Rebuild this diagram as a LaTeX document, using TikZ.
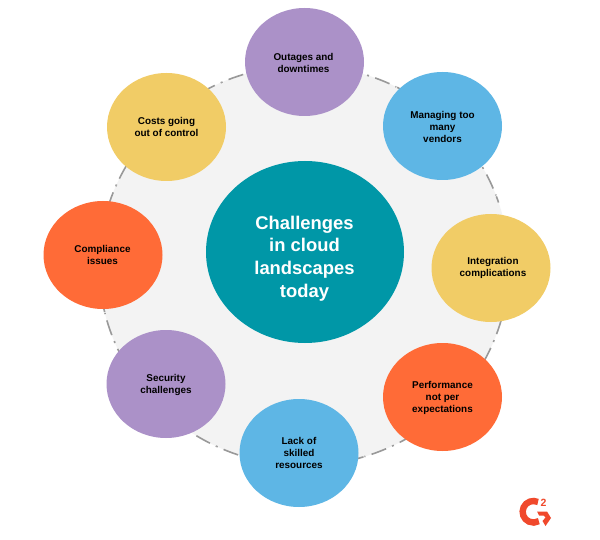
\documentclass[tikz,border=0pt]{standalone}
\usepackage{fontspec}
\setmainfont{Liberation Sans}
\definecolor{teal1}{HTML}{0097A7}
\definecolor{purp}{HTML}{AB91C8}
\definecolor{blue1}{HTML}{5EB6E5}
\definecolor{yel}{HTML}{F1CC66}
\definecolor{oran}{HTML}{FF6B37}
\definecolor{ring}{HTML}{F3F3F3}
\definecolor{gred}{HTML}{F0492C}
\definecolor{ringline}{HTML}{999999}
\usetikzlibrary{shapes.geometric}
\tikzset{
 x=1pt,y=-1pt,
 item/.style={ellipse,minimum width=119pt,minimum height=108pt,inner sep=0pt,align=center,text=black},
 itemtext/.style={inner sep=0pt,align=center,text=black,font=\fontsize{9.9}{12}\selectfont\bfseries},
 ringdash/.style={draw=ringline,line width=1.6pt,dash pattern=on 1pt off 6.5pt on 15.5pt off 6.5pt on 1pt},
}
\begin{document}
\begin{tikzpicture}
\useasboundingbox (0,0) rectangle (600,540);
\fill[white] (0,0) rectangle (600,540);
\fill[ring] (304,265.5) ellipse[x radius=205,y radius=200];
\foreach \a/\lo/\hi in {-71.8/-80/-58,-29.2/-35/-12,22.2/10/35,64.3/52/80,115.2/103/128,157.5/148/175,203.6/190/216,246.3/232/262}{
  \draw[ringdash] ({304+205*cos(\a)},{265.5+200*sin(\a)}) arc[x radius=205,y radius=200,start angle=\a,end angle=\hi];
  \draw[ringdash] ({304+205*cos(\a)},{265.5+200*sin(\a)}) arc[x radius=205,y radius=200,start angle=\a,end angle=\lo];
}
\node[ellipse,fill=teal1,minimum width=198pt,minimum height=182pt,inner sep=0pt] (c) at (305,252) {};
\node[inner sep=0pt,align=center,text=white,font=\fontsize{18.4}{22.7}\selectfont\bfseries] (ct) at (304.5,258.5) {Challenges\\in cloud\\landscapes\\today};
\node[item,fill=purp] (a) at (304.5,62) {};
\node[itemtext] (at) at (303.5,63) {Outages and\\downtimes};
\node[item,fill=blue1] (b) at (442.5,126) {};
\node[itemtext] (bt) at (442.5,127) {Managing too\\many\\vendors};
\node[item,fill=yel] (d) at (491,268) {};
\node[itemtext] (dt) at (493,268) {Integration\\complications};
\node[item,fill=oran] (e) at (442.5,397) {};
\node[itemtext] (et) at (442.5,397.5) {Performance\\not per\\expectations};
\node[item,fill=blue1] (f) at (299,453) {};
\node[itemtext] (ft) at (299,453) {Lack of\\skilled\\resources};
\node[item,fill=purp] (g) at (166,384) {};
\node[itemtext] (gt) at (166,385) {Security\\challenges};
\node[item,fill=oran] (h) at (103,255) {};
\node[itemtext] (ht) at (102.5,254.5) {Compliance\\issues};
\node[item,fill=yel] (i) at (166.5,127) {};
\node[itemtext] (it) at (166.5,127) {Costs going\\out of control};
% G2 logo
\draw[gred,line width=6.4pt] (538,502) arc[start angle=-65,end angle=-300,radius=10.8];
\fill[gred] (537,511.5) -- (547,511.5) -- (551,518) -- (545.5,526) -- (542.5,521) -- (545.5,517.5) -- (543.5,515.5) -- (539,515.5) -- cycle;
\node[text=gred,font=\fontsize{10.5}{10}\selectfont\bfseries,inner sep=0pt] (sup) at (543.5,503) {2};
\end{tikzpicture}
\end{document}
